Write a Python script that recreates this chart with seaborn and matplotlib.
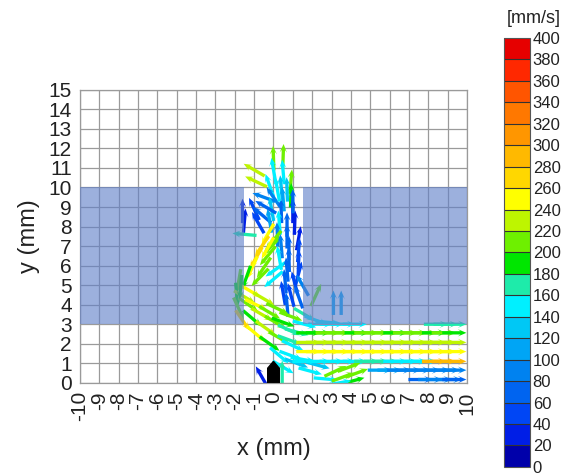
import numpy as np
import pandas as pd
import matplotlib
matplotlib.use("Agg")
import matplotlib.pyplot as plt
import seaborn as sns
from matplotlib.colors import ListedColormap, BoundaryNorm
from matplotlib.patches import Rectangle, Polygon
from matplotlib.cm import ScalarMappable

# ===============================
# colour scale (20 bands, 0-400 mm/s)
# ===============================
level_edges = list(range(0, 420, 20))
band_colors = [
    "#0000aa", "#001ee6", "#0046f5", "#0064f0", "#0082f0",
    "#00a5f5", "#00c8f5", "#00f0ff", "#1eebaa", "#00e600",
    "#6ef000", "#bef500", "#ffff00", "#ffd700", "#ffb900",
    "#ff9600", "#ff7800", "#ff5500", "#ff2800", "#e60000",
]

# ===============================
# velocity vectors: position (mm), direction (deg), speed (mm/s)
# ===============================
# jet column and top of the gap
col_x = [0.0, 0.5, -1.0, -0.9, 0.0, 0.5, 0.9, -0.2, 0.4, 0.9,
         -0.5, 0.0, 0.5, -1.6, -1.0, -0.6, -0.1, 0.4, 1.0, -1.5,
         -0.8, -0.2, 0.3, 0.7, 1.1, -1.5, -0.3, 0.2, 0.7, 1.3,
         -0.6, -0.1, 0.4, 0.8, 1.3, -0.9, -0.3, 0.3, 0.8, 1.3,
         -1.1, -0.5, 0.1, 0.7, 1.3, -1.4, -0.7, 0.0, 0.6, 1.1,
         1.5, 0.5, 0.9, 1.3, 0.7, 2.2, 3.1, 3.5, 0.2, 0.7,
         -0.4, 1.0, 0.0, -0.3]
col_y = [11.5, 11.6, 10.9, 10.3, 10.9, 10.8, 10.3, 10.1, 10.0, 9.6,
         9.5, 9.5, 9.4, 8.8, 8.9, 8.6, 8.9, 8.8, 8.8, 8.3,
         8.2, 8.3, 8.2, 8.1, 8.2, 7.6, 7.6, 7.6, 7.5, 7.4,
         7.0, 7.0, 7.0, 6.9, 6.8, 6.4, 6.5, 6.4, 6.3, 6.2,
         5.9, 5.9, 5.8, 5.8, 5.6, 5.4, 5.4, 5.3, 5.2, 5.1,
         5.0, 4.6, 4.5, 4.4, 4.0, 4.5, 4.1, 4.1, 9.9, 9.9,
         9.0, 9.3, 7.3, 6.9]
col_ang = [92, 88, 150, 155, 100, 95, 85, 110, 95, 88,
           160, 125, 95, 90, 115, 140, 100, 92, 90, 85,
           120, 100, 95, 90, 88, 175, 240, 92, 90, 80,
           235, 225, 95, 90, 85, 240, 230, 100, 92, 88,
           245, 235, 215, 95, 75, 250, 225, 220, 95, 105,
           120, 100, 105, 110, 95, 65, 90, 90, 100, 92,
           150, 90, 230, 240]
col_spd = [210, 205, 225, 230, 150, 140, 200, 140, 130, 190,
           80, 90, 100, 25, 40, 60, 120, 70, 35, 30,
           50, 110, 140, 60, 30, 160, 255, 90, 70, 35,
           265, 200, 85, 60, 40, 275, 210, 150, 60, 45,
           255, 200, 140, 75, 55, 190, 210, 150, 60, 50,
           85, 55, 45, 70, 60, 200, 105, 105, 150, 120,
           70, 60, 210, 245]

# curved return flow on the left and the diagonal band
arc_x = [-1.8, -1.9, -1.8, -1.6, -1.2, -0.5, 0.2, 0.9, 1.6, -1.3,
         -0.6, 0.1, 0.8, -1.1, -0.4, 0.3, 1.0, -0.9, -0.2, 0.3,
         0.5, 1.2, 1.9, 2.7, 3.2, 3.6, 4.1, 4.3, -0.6, 0.45,
         -1.5, -0.9, -0.2, 0.5, 1.2, -1.7, 0.9, 1.5, 0.8, 1.6,
         2.2, 2.8, 3.9, 3.4, 2.3]
arc_y = [5.2, 4.5, 3.8, 3.2, 4.7, 4.3, 3.8, 3.4, 3.0, 4.0,
         3.5, 3.1, 2.7, 3.3, 2.8, 2.3, 1.9, 2.5, 2.0, 1.4,
         0.8, 1.0, 0.6, 0.2, 0.6, 0.3, 0.1, 0.5, 0.3, 0.5,
         4.4, 4.0, 3.6, 3.1, 2.6, 4.9, 1.4, 1.2, 2.2, 3.5,
         3.2, 3.1, 0.8, 0.0, 0.9]
arc_ang = [260, 275, 295, 305, 330, 330, 335, 340, 345, 325,
           330, 330, 335, 320, 325, 330, 335, 320, 325, 320,
           330, 340, 345, 355, 25, 20, 15, 20, 120, 90,
           330, 335, 330, 340, 345, 265, 340, 350, 340, 330,
           340, 355, 20, 10, 345]
arc_spd = [200, 190, 215, 265, 250, 230, 200, 210, 150, 200,
           225, 210, 160, 190, 235, 200, 150, 245, 190, 150,
           140, 130, 140, 155, 200, 205, 190, 215, 25, 165,
           220, 240, 215, 195, 170, 185, 140, 150, 160, 175,
           150, 140, 210, 150, 130]

# horizontal outflow rows under the right block
row_x = [1.8, 2.3, 2.8, 3.3, 3.8, 4.3, 4.8, 5.3, 5.8, 6.3,
         6.8, 7.3, 7.8, 8.3, 8.8, 9.35]
row_top_x = [2.4, 3.0, 3.6, 4.2, 8.4, 8.9, 9.35]
row_top_spd = [145, 145, 140, 140, 165, 165, 160]
row_a_spd = [190, 195, 200, 205, 200, 195, 200, 205, 200, 195, 200, 205, 200, 195, 200, 195]
row_b_spd = [220, 225, 230, 235, 225, 230, 235, 230, 225, 230, 235, 230, 225, 230, 225, 230]
row_c_spd = [240, 245, 250, 255, 245, 250, 255, 250, 245, 250, 255, 250, 255, 250, 255, 250]
row_d_x = [1.6, 2.3, 3.0, 3.6, 4.2, 4.8, 5.3, 5.8, 6.3, 6.8, 7.3, 7.8, 8.3, 8.8, 9.35]
row_d_spd = [150, 150, 145, 150, 155, 160, 165, 160, 155, 150, 145, 150, 280, 285, 280]
row_e_x = [5.5, 6.0, 6.5, 7.0, 7.5, 8.0, 8.5, 9.0, 9.35]
row_e_spd = [105, 100, 95, 90, 95, 90, 85, 80, 85]
row_f_x = [7.6, 8.1, 8.6, 9.1, 9.35]
row_f_spd = [75, 80, 85, 80, 75]

x_ticks = list(range(-10, 11))
y_ticks = list(range(0, 16))

# ===============================
# assemble vector table
# ===============================
frames = [
    pd.DataFrame({"x": col_x, "y": col_y, "ang": col_ang, "spd": col_spd}),
    pd.DataFrame({"x": arc_x, "y": arc_y, "ang": arc_ang, "spd": arc_spd}),
    pd.DataFrame({"x": row_top_x, "y": 3.0, "ang": 0, "spd": row_top_spd}),
    pd.DataFrame({"x": row_x, "y": 2.56, "ang": 0, "spd": row_a_spd}),
    pd.DataFrame({"x": row_x, "y": 2.07, "ang": 0, "spd": row_b_spd}),
    pd.DataFrame({"x": row_x, "y": 1.6, "ang": 0, "spd": row_c_spd}),
    pd.DataFrame({"x": row_d_x, "y": 1.1, "ang": 0, "spd": row_d_spd}),
    pd.DataFrame({"x": row_e_x, "y": 0.65, "ang": 0, "spd": row_e_spd}),
    pd.DataFrame({"x": row_f_x, "y": 0.17, "ang": 0, "spd": row_f_spd}),
]
df = pd.concat(frames, ignore_index=True)

arrow_len = 1.25
df["u"] = arrow_len * np.cos(np.radians(df["ang"]))
df["v"] = arrow_len * np.sin(np.radians(df["ang"]))

# ===============================
# plot
# ===============================
sns.set_theme(style="white")
plt.rcParams["font.family"] = ["Liberation Sans", "DejaVu Sans"]
plt.rcParams["axes.unicode_minus"] = False

cmap = ListedColormap(band_colors)
norm = BoundaryNorm(level_edges, cmap.N)

fig = plt.figure(figsize=(5.68, 4.75), dpi=100)
ax = fig.add_axes([0.141, 0.194, 0.681, 0.617])

ax.set_xlim(-10, 10)
ax.set_ylim(0, 15)
ax.set_xticks(x_ticks)
ax.set_yticks(y_ticks)
ax.grid(True, color="#9a9a9a", linewidth=0.9, zorder=0)
ax.set_axisbelow(True)

ax.quiver(df["x"], df["y"], df["u"], df["v"], df["spd"],
          cmap=cmap, norm=norm, angles="xy", scale_units="xy", scale=1,
          units="xy", width=0.17, headwidth=2.2, headlength=2.6,
          headaxislength=1.8, pivot="middle", zorder=2)

# solid blocks (semi-transparent, over the vectors)
ax.add_patch(Rectangle((-10, 3), 8.5, 7, facecolor="#6080c8", alpha=0.62,
                       edgecolor="none", zorder=3))
ax.add_patch(Rectangle((1.5, 3), 8.5, 7, facecolor="#6080c8", alpha=0.62,
                       edgecolor="none", zorder=3))
ax.add_patch(Rectangle((2.0, 3), 2.5, 3, facecolor="none",
                       edgecolor="#7d8fbd", linewidth=0.8, zorder=3.1))

# nozzle
ax.add_patch(Polygon([(-0.3, 0), (0.3, 0), (0.3, 0.75), (0.0, 1.1), (-0.3, 0.75)],
                     closed=True, facecolor="black", edgecolor="black", zorder=4))

for s in ax.spines.values():
    s.set_color("#9a9a9a")
    s.set_linewidth(0.9)

ax.tick_params(axis="both", direction="out", length=5, width=0.9,
               color="#9a9a9a", labelsize=15, labelcolor="#222222", pad=1)
ax.tick_params(axis="x", labelrotation=90)
ax.set_xlabel("x (mm)", fontsize=17, color="#222222", labelpad=12)
ax.set_ylabel("y (mm)", fontsize=17, color="#222222", labelpad=6)

# ===============================
# colour bar
# ===============================
cax = fig.add_axes([0.887, 0.017, 0.046, 0.903])
sm = ScalarMappable(norm=norm, cmap=cmap)
cb = fig.colorbar(sm, cax=cax, ticks=level_edges, drawedges=True)
cb.outline.set_edgecolor("#555555")
cb.outline.set_linewidth(0.8)
cb.dividers.set_color("#333333")
cb.dividers.set_linewidth(0.8)
cax.tick_params(length=0, labelsize=12, labelcolor="#222222", pad=2)
fig.text(0.940, 0.962, "[mm/s]", ha="center", va="center",
         fontsize=13, color="#222222")

fig.savefig("out.png", dpi=100)
